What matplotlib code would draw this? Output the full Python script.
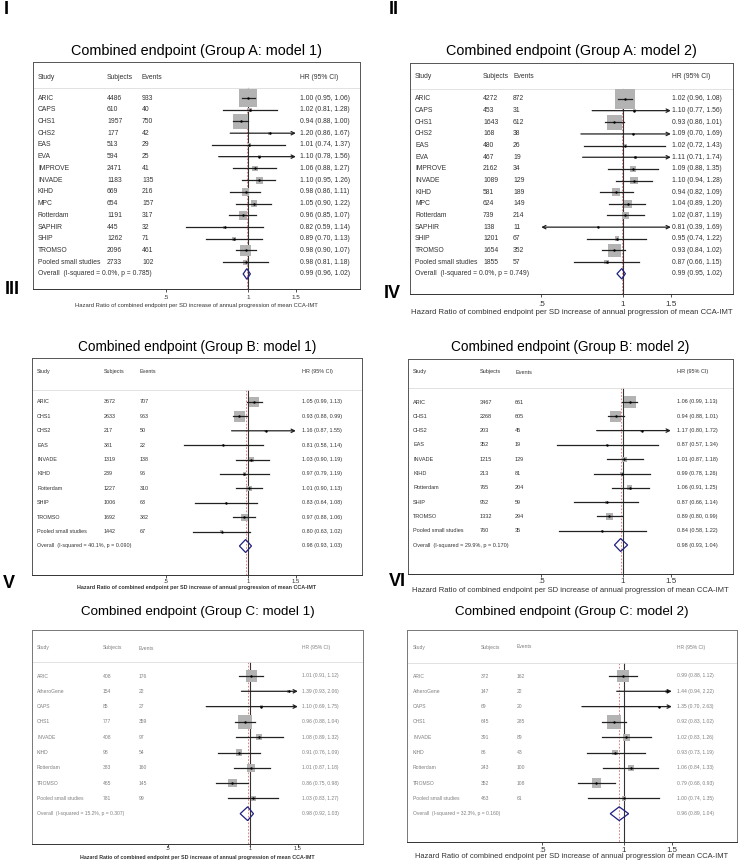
import matplotlib.pyplot as plt
import numpy as np
from matplotlib.transforms import blended_transform_factory
from matplotlib.ticker import NullLocator, NullFormatter

plt.rcParams['font.family'] = ['Liberation Sans', 'DejaVu Sans']

W, H = 740, 865

# ---------------- data ----------------
studies_a = ['ARIC', 'CAPS', 'CHS1', 'CHS2', 'EAS', 'EVA', 'IMPROVE', 'INVADE', 'KIHD',
             'MPC', 'Rotterdam', 'SAPHIR', 'SHIP', 'TROMSO', 'Pooled small studies']
subjects_a1 = [4486, 610, 1957, 177, 513, 594, 2471, 1183, 669, 654, 1191, 445, 1262, 2096, 2733]
events_a1 = [933, 40, 750, 42, 29, 25, 41, 135, 216, 157, 317, 32, 71, 461, 102]
hr_a1 = [1.00, 1.02, 0.94, 1.20, 1.01, 1.10, 1.06, 1.10, 0.98, 1.05, 0.96, 0.82, 0.89, 0.98, 0.98]
lo_a1 = [0.95, 0.81, 0.88, 0.86, 0.74, 0.78, 0.88, 0.95, 0.86, 0.90, 0.85, 0.59, 0.70, 0.90, 0.81]
hi_a1 = [1.06, 1.28, 1.00, 1.67, 1.37, 1.56, 1.27, 1.26, 1.11, 1.22, 1.07, 1.14, 1.13, 1.07, 1.18]
overall_a1 = (0.99, 0.96, 1.02)
het_a1 = 'Overall  (I-squared = 0.0%, p = 0.785)'

subjects_a2 = [4272, 453, 1643, 168, 480, 467, 2162, 1089, 581, 624, 739, 138, 1201, 1654, 1855]
events_a2 = [872, 31, 612, 38, 26, 19, 34, 129, 189, 149, 214, 11, 67, 352, 57]
hr_a2 = [1.02, 1.10, 0.93, 1.09, 1.02, 1.11, 1.09, 1.10, 0.94, 1.04, 1.02, 0.81, 0.95, 0.93, 0.87]
lo_a2 = [0.96, 0.77, 0.86, 0.70, 0.72, 0.71, 0.88, 0.94, 0.82, 0.89, 0.87, 0.39, 0.74, 0.84, 0.66]
hi_a2 = [1.08, 1.56, 1.01, 1.69, 1.43, 1.74, 1.35, 1.28, 1.09, 1.20, 1.19, 1.69, 1.22, 1.02, 1.15]
overall_a2 = (0.99, 0.95, 1.02)
het_a2 = 'Overall  (I-squared = 0.0%, p = 0.749)'

studies_b = ['ARIC', 'CHS1', 'CHS2', 'EAS', 'INVADE', 'KIHD', 'Rotterdam', 'SHIP', 'TROMSO',
             'Pooled small studies']
subjects_b1 = [3672, 2633, 217, 381, 1319, 239, 1227, 1006, 1692, 1442]
events_b1 = [707, 963, 50, 22, 138, 96, 310, 63, 382, 67]
hr_b1 = [1.05, 0.93, 1.16, 0.81, 1.03, 0.97, 1.01, 0.83, 0.97, 0.80]
lo_b1 = [0.99, 0.88, 0.87, 0.58, 0.90, 0.79, 0.90, 0.64, 0.88, 0.63]
hi_b1 = [1.13, 0.99, 1.55, 1.14, 1.19, 1.19, 1.13, 1.08, 1.06, 1.02]
overall_b1 = (0.98, 0.93, 1.03)
het_b1 = 'Overall  (I-squared = 40.1%, p = 0.090)'

subjects_b2 = [3467, 2268, 203, 352, 1215, 213, 765, 952, 1332, 760]
events_b2 = [661, 605, 45, 19, 129, 81, 204, 59, 294, 35]
hr_b2 = [1.06, 0.94, 1.17, 0.87, 1.01, 0.99, 1.06, 0.87, 0.89, 0.84]
lo_b2 = [0.99, 0.88, 0.80, 0.57, 0.87, 0.78, 0.91, 0.66, 0.80, 0.58]
hi_b2 = [1.13, 1.01, 1.72, 1.34, 1.18, 1.26, 1.25, 1.14, 0.99, 1.22]
overall_b2 = (0.98, 0.93, 1.04)
het_b2 = 'Overall  (I-squared = 29.9%, p = 0.170)'

studies_c = ['ARIC', 'AtheroGene', 'CAPS', 'CHS1', 'INVADE', 'KIHD', 'Rotterdam', 'TROMSO',
             'Pooled small studies']
subjects_c1 = [408, 154, 85, 777, 408, 98, 383, 465, 781]
events_c1 = [176, 22, 27, 359, 97, 54, 160, 145, 99]
hr_c1 = [1.01, 1.39, 1.10, 0.96, 1.08, 0.91, 1.01, 0.86, 1.03]
lo_c1 = [0.91, 0.93, 0.69, 0.88, 0.89, 0.76, 0.87, 0.75, 0.83]
hi_c1 = [1.12, 2.06, 1.75, 1.04, 1.32, 1.09, 1.18, 0.98, 1.27]
overall_c1 = (0.98, 0.92, 1.03)
het_c1 = 'Overall  (I-squared = 15.2%, p = 0.307)'

subjects_c2 = [372, 147, 69, 645, 391, 86, 243, 352, 463]
events_c2 = [162, 22, 20, 285, 89, 43, 100, 108, 61]
hr_c2 = [0.99, 1.44, 1.35, 0.92, 1.02, 0.93, 1.06, 0.79, 1.00]
lo_c2 = [0.88, 0.94, 0.70, 0.83, 0.83, 0.73, 0.84, 0.68, 0.74]
hi_c2 = [1.12, 2.22, 2.63, 1.02, 1.26, 1.19, 1.33, 0.93, 1.35]
overall_c2 = (0.96, 0.89, 1.04)
het_c2 = 'Overall  (I-squared = 32.3%, p = 0.160)'

xlab = 'Hazard Ratio of combined endpoint per SD increase of annual progression of mean CCA-IMT'

# ---------------- layout (pixels) ----------------
lay_I = dict(L=33, T=62, R=360, B=289, x1=248, aric=98, h=11.73, hdr=77, sep=88, title=51,
             tick=298, xl=305, cols=(38, 107, 142, 300), fs=4.9, fst=10.4, fsx=4.2, xw='normal',
             bmax=18, tc='#333333', fc='#555555')
lay_II = dict(L=410, T=63, R=733, B=294, x1=623, aric=99, h=11.65, hdr=77, sep=89, title=51,
              tick=305, xl=313, cols=(415, 483, 513, 672), fs=4.9, fst=10.4, fsx=5.6, xw='normal',
              bmax=20, tc='#333333', fc='#555555')
lay_III = dict(L=32, T=358, R=362, B=575, x1=248, aric=402, h=14.4, hdr=372, sep=390, title=347,
               tick=582, xl=587, cols=(37, 104, 140, 302), fs=3.9, fst=9.8, fsx=3.9, xw='bold',
               bmax=11, tc='#333333', fc='#555555')
lay_IV = dict(L=408, T=359, R=733, B=574, x1=623, aric=402, h=14.3, hdr=372, sep=388, title=347,
              tick=582, xl=590, cols=(413, 480, 515, 677), fs=4.0, fst=9.8, fsx=5.5, xw='normal',
              bmax=12, tc='#333333', fc='#555555')
lay_V = dict(L=32, T=630, R=363, B=844, x1=250, aric=676, h=15.3, hdr=648, sep=662, title=612,
             tick=849, xl=857, cols=(37, 103, 139, 302), fs=3.6, fst=9.6, fsx=3.8, xw='bold',
             bmax=14, tc='#808080', fc='#777777')
lay_VI = dict(L=407, T=630, R=737, B=842, x1=624, aric=676, h=15.3, hdr=647, sep=663, title=612,
              tick=851, xl=857, cols=(413, 481, 517, 677), fs=3.6, fst=9.6, fsx=5.4, xw='normal',
              bmax=14, tc='#808080', fc='#777777')

K = 118.0  # pixels per log unit on the x axis
XMIN, XMAX = 0.5, 1.5


def forest(fig, lay, title, studies, subj, events, hr, lo, hi, overall, het):
    L, T, R, B = lay['L'], lay['T'], lay['R'], lay['B']
    ax = fig.add_axes([L / W, 1 - B / H, (R - L) / W, (B - T) / H])
    h, y0 = lay['h'], lay['aric']
    n = len(studies)
    py = lambda p: (p - y0) / h
    fx = lambda p: (p - L) / (R - L)

    ax.set_xscale('log')
    ax.set_xlim(np.exp((L - lay['x1']) / K), np.exp((R - lay['x1']) / K))
    ax.set_ylim(py(B), py(T))
    tr = blended_transform_factory(ax.transAxes, ax.transData)
    txt = dict(transform=tr, fontsize=lay['fs'], color=lay['tc'], va='center', ha='left')

    # header
    for x, s in zip(lay['cols'], ['Study', 'Subjects', 'Events', 'HR (95% CI)']):
        ax.text(fx(x), py(lay['hdr']), s, **txt)
    ax.plot([0, 1], [py(lay['sep'])] * 2, transform=tr, color='#dddddd', lw=0.6)

    # box size from inverse-variance weight
    hr_a, lo_a, hi_a = np.array(hr), np.array(lo), np.array(hi)
    se = (np.log(hi_a) - np.log(lo_a)) / 3.92
    w = 1 / se ** 2
    side = lay['bmax'] * np.sqrt(w / w.max()) * 0.72
    rows = np.arange(n)

    ax.scatter(hr_a, rows, s=side ** 2, marker='s', color='#b3b3b3', lw=0, zorder=2)
    for i in range(n):
        a, b = max(lo_a[i], XMIN), min(hi_a[i], XMAX)
        left, right = lo_a[i] < XMIN, hi_a[i] > XMAX
        if left or right:
            style = '<->' if (left and right) else ('->' if right else '<-')
            ax.annotate('', xy=(b, i), xytext=(a, i),
                        arrowprops=dict(arrowstyle=style, lw=0.9, color='#222222',
                                        shrinkA=0, shrinkB=0, mutation_scale=6), zorder=3)
        else:
            ax.plot([a, b], [i, i], color='#222222', lw=0.9, zorder=3)
        ax.text(fx(lay['cols'][0]), i, studies[i], **txt)
        ax.text(fx(lay['cols'][1]), i, str(subj[i]), **txt)
        ax.text(fx(lay['cols'][2]), i, str(events[i]), **txt)
        ax.text(fx(lay['cols'][3]), i, '%.2f (%.2f, %.2f)' % (hr[i], lo[i], hi[i]), **txt)
    ax.scatter(hr_a, rows, s=3, color='black', zorder=4, lw=0)

    # overall diamond
    ov, olo, ohi = overall
    d = 0.45
    ax.fill([olo, ov, ohi, ov, olo], [n, n - d, n, n + d, n], facecolor='none',
            edgecolor='#202080', lw=0.9, zorder=4)
    ax.text(fx(lay['cols'][0]), n, het, **txt)
    ax.text(fx(lay['cols'][3]), n, '%.2f (%.2f, %.2f)' % overall, **txt)

    # reference lines
    ax.plot([1, 1], [py(lay['sep']), py(B)], color='#333333', lw=0.8, zorder=1)
    ax.plot([ov, ov], [py(lay['sep']), py(B)], color='#d86a6a', lw=0.6,
            ls=(0, (2, 2)), zorder=1)

    # frame and axis
    for sp in ax.spines.values():
        sp.set_color(lay['fc'])
        sp.set_linewidth(0.7)
    ax.spines['bottom'].set_color('#333333')
    ax.set_yticks([])
    ax.xaxis.set_minor_locator(NullLocator())
    ax.xaxis.set_minor_formatter(NullFormatter())
    ax.set_xticks([0.5, 1, 1.5])
    ax.set_xticklabels(['.5', '1', '1.5'])
    tfs = lay['fsx'] + 0.3
    pad = (lay['tick'] - B - 3 - tfs / 0.72 / 2) * 0.72
    ax.tick_params(axis='x', length=2.2, width=0.6, color='#333333', labelsize=tfs,
                   labelcolor='#333333', pad=pad)
    ax.text(0.5, (B - lay['xl']) / (B - T), xlab, transform=ax.transAxes, ha='center',
            va='center', fontsize=lay['fsx'], fontweight=lay['xw'], color='#333333')
    ax.text(0.5, (B - lay['title']) / (B - T), title, transform=ax.transAxes, ha='center',
            va='center', fontsize=lay['fst'], color='black')
    return ax


fig = plt.figure(figsize=(W / 100, H / 100), dpi=100)
fig.patch.set_facecolor('white')

forest(fig, lay_I, 'Combined endpoint (Group A: model 1)', studies_a, subjects_a1, events_a1,
       hr_a1, lo_a1, hi_a1, overall_a1, het_a1)
forest(fig, lay_II, 'Combined endpoint (Group A: model 2)', studies_a, subjects_a2, events_a2,
       hr_a2, lo_a2, hi_a2, overall_a2, het_a2)
forest(fig, lay_III, 'Combined endpoint (Group B: model 1)', studies_b, subjects_b1, events_b1,
       hr_b1, lo_b1, hi_b1, overall_b1, het_b1)
forest(fig, lay_IV, 'Combined endpoint (Group B: model 2)', studies_b, subjects_b2, events_b2,
       hr_b2, lo_b2, hi_b2, overall_b2, het_b2)
forest(fig, lay_V, 'Combined endpoint (Group C: model 1)', studies_c, subjects_c1, events_c1,
       hr_c1, lo_c1, hi_c1, overall_c1, het_c1)
forest(fig, lay_VI, 'Combined endpoint (Group C: model 2)', studies_c, subjects_c2, events_c2,
       hr_c2, lo_c2, hi_c2, overall_c2, het_c2)

# panel numerals
for s, x, y in [('I', 6, 10), ('II', 394, 9), ('III', 12, 290), ('IV', 392, 294),
                ('V', 9, 583), ('VI', 397, 581)]:
    fig.text(x / W, 1 - y / H, s, fontsize=13, fontweight='bold', ha='center', va='center')

fig.savefig('out.png', dpi=100)
